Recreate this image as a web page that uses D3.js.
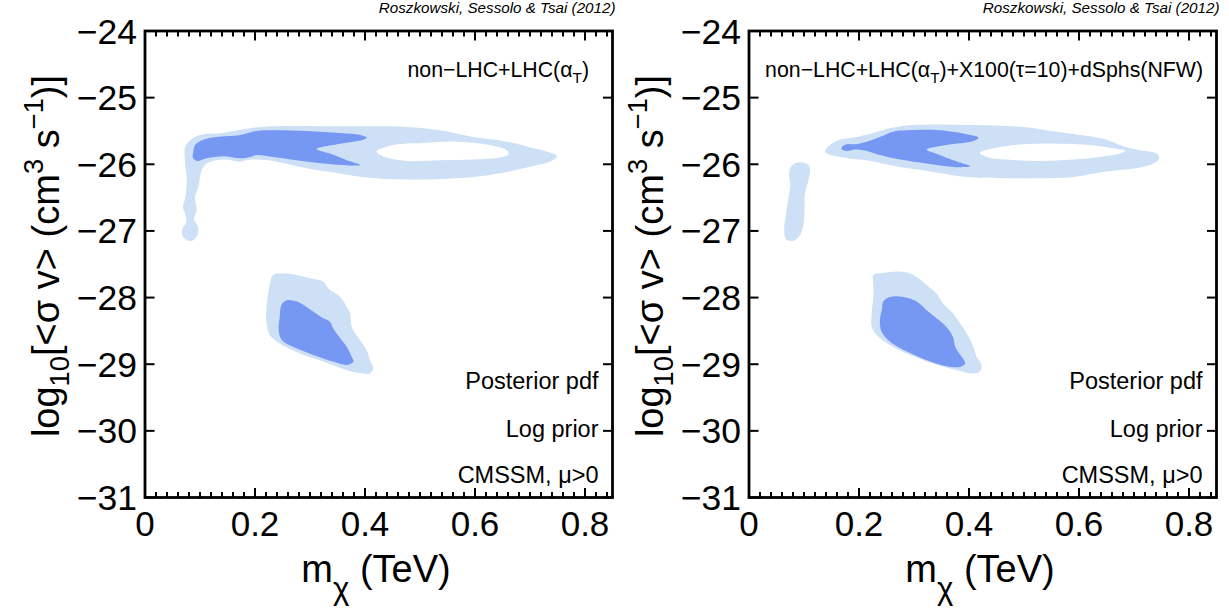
<!DOCTYPE html>
<html><head><meta charset="utf-8">
<script src="https://cdn.jsdelivr.net/npm/d3@7/dist/d3.min.js"></script>
<style>
body{margin:0;background:#fff}
svg{display:block}
text{font-family:"Liberation Sans",Arial,Helvetica,sans-serif;fill:#000}
</style>
</head><body>
<svg id="chart" width="1229" height="613"></svg>
<script>
// ---------- axis setup ----------
const xDomain = [0, 0.85];
const yDomain = [-31, -24];
const xTickValues = [0, 0.2, 0.4, 0.6, 0.8];
const xTickLabels = ["0", "0.2", "0.4", "0.6", "0.8"];
const yTickValues = [-24, -25, -26, -27, -28, -29, -30, -31];
const yTickLabels = ["\u221224", "\u221225", "\u221226", "\u221227", "\u221228", "\u221229", "\u221230", "\u221231"];
const credit = "Roszkowski, Sessolo & Tsai (2012)";
const cornerLabels = ["Posterior pdf", "Log prior", "CMSSM, \u03bc>0"];
const leftTitle = [["non\u2212LHC+LHC(\u03b1", "n"], ["T", "sub"], [")", "n"]];
const rightTitle = [["non\u2212LHC+LHC(\u03b1", "n"], ["T", "sub"], [")+X100(\u03c4=10)+dSphs(NFW)", "n"]];

// ---------- contours: [m_chi (TeV), log10 <sigma v>] ----------
// Left panel (non-LHC+LHC(alpha_T))
const leftTop95 = [[0.082,-25.64],[0.100,-25.56],[0.142,-25.53],[0.191,-25.46],[0.233,-25.43],[0.355,-25.43],[0.476,-25.44],[0.536,-25.49],[0.597,-25.59],[0.658,-25.66],[0.706,-25.76],[0.730,-25.81],[0.749,-25.88],[0.736,-25.96],[0.688,-26.06],[0.627,-26.16],[0.567,-26.21],[0.476,-26.23],[0.403,-26.20],[0.355,-26.14],[0.294,-26.06],[0.233,-25.95],[0.191,-25.93],[0.173,-25.96],[0.142,-25.93],[0.112,-25.99],[0.103,-26.09],[0.097,-26.34],[0.091,-26.49],[0.094,-26.69],[0.089,-26.82],[0.096,-26.93],[0.096,-27.05],[0.085,-27.15],[0.071,-27.11],[0.067,-26.99],[0.075,-26.87],[0.073,-26.75],[0.069,-26.63],[0.073,-26.51],[0.076,-26.24],[0.073,-25.99],[0.073,-25.74]];
const leftTopHole = [[0.421,-25.81],[0.451,-25.71],[0.506,-25.68],[0.567,-25.66],[0.627,-25.71],[0.658,-25.79],[0.661,-25.85],[0.645,-25.90],[0.597,-25.93],[0.536,-25.94],[0.476,-25.95],[0.439,-25.90]];
const leftTop68 = [[0.088,-25.81],[0.091,-25.71],[0.106,-25.63],[0.130,-25.59],[0.173,-25.56],[0.203,-25.50],[0.233,-25.49],[0.294,-25.50],[0.355,-25.53],[0.391,-25.56],[0.403,-25.60],[0.397,-25.63],[0.355,-25.69],[0.312,-25.77],[0.336,-25.84],[0.367,-25.94],[0.391,-26.01],[0.379,-26.02],[0.324,-25.99],[0.276,-25.94],[0.233,-25.89],[0.203,-25.86],[0.191,-25.89],[0.173,-25.91],[0.142,-25.88],[0.112,-25.91],[0.094,-25.95],[0.087,-25.90]];
const leftLow95 = [[0.233,-27.66],[0.252,-27.64],[0.276,-27.66],[0.300,-27.71],[0.324,-27.76],[0.333,-27.86],[0.355,-27.99],[0.367,-28.14],[0.373,-28.24],[0.376,-28.44],[0.391,-28.64],[0.403,-28.79],[0.409,-28.94],[0.415,-29.06],[0.409,-29.14],[0.397,-29.14],[0.367,-29.09],[0.324,-28.96],[0.282,-28.84],[0.245,-28.69],[0.227,-28.56],[0.221,-28.39],[0.221,-28.14],[0.224,-27.94],[0.227,-27.79]];
const leftLow68 = [[0.258,-28.04],[0.276,-28.06],[0.294,-28.14],[0.306,-28.21],[0.324,-28.31],[0.336,-28.36],[0.342,-28.46],[0.355,-28.61],[0.367,-28.74],[0.376,-28.89],[0.379,-28.96],[0.367,-29.01],[0.342,-28.96],[0.306,-28.86],[0.270,-28.74],[0.249,-28.64],[0.243,-28.49],[0.245,-28.29],[0.248,-28.11]];

// Right panel (+X100(tau=10)+dSphs(NFW))
const rightTop95 = [[0.138,-25.81],[0.147,-25.71],[0.165,-25.63],[0.196,-25.59],[0.226,-25.53],[0.256,-25.46],[0.299,-25.41],[0.408,-25.41],[0.499,-25.44],[0.559,-25.51],[0.620,-25.58],[0.650,-25.63],[0.681,-25.73],[0.711,-25.79],[0.741,-25.84],[0.746,-25.91],[0.735,-25.99],[0.711,-26.05],[0.650,-26.11],[0.590,-26.19],[0.529,-26.21],[0.469,-26.21],[0.408,-26.20],[0.359,-26.15],[0.317,-26.09],[0.275,-26.04],[0.238,-25.98],[0.214,-25.94],[0.190,-25.92],[0.165,-25.89],[0.144,-25.85]];
const rightTopHole = [[0.420,-25.83],[0.444,-25.76],[0.499,-25.70],[0.559,-25.69],[0.620,-25.71],[0.662,-25.76],[0.684,-25.80],[0.675,-25.84],[0.638,-25.89],[0.590,-25.93],[0.529,-25.95],[0.469,-25.93],[0.432,-25.89]];
const rightTop68 = [[0.169,-25.74],[0.178,-25.70],[0.193,-25.70],[0.214,-25.66],[0.238,-25.59],[0.262,-25.51],[0.287,-25.49],[0.347,-25.49],[0.396,-25.55],[0.417,-25.60],[0.408,-25.65],[0.359,-25.71],[0.323,-25.78],[0.347,-25.86],[0.378,-25.96],[0.402,-26.03],[0.371,-26.04],[0.323,-25.99],[0.275,-25.93],[0.238,-25.86],[0.208,-25.79],[0.193,-25.78],[0.178,-25.80],[0.169,-25.78]];
const rightStem95 = [[0.075,-26.06],[0.081,-26.00],[0.093,-25.97],[0.108,-26.01],[0.111,-26.09],[0.108,-26.24],[0.102,-26.44],[0.100,-26.84],[0.093,-27.06],[0.080,-27.15],[0.067,-27.12],[0.064,-26.99],[0.067,-26.76],[0.071,-26.54],[0.075,-26.31],[0.073,-26.16]];
const rightLow95 = [[0.226,-27.66],[0.244,-27.63],[0.275,-27.61],[0.299,-27.66],[0.323,-27.81],[0.341,-27.94],[0.353,-28.09],[0.371,-28.24],[0.384,-28.39],[0.396,-28.54],[0.408,-28.74],[0.414,-28.89],[0.423,-29.01],[0.420,-29.11],[0.408,-29.14],[0.378,-29.09],[0.335,-28.99],[0.293,-28.86],[0.256,-28.71],[0.232,-28.56],[0.223,-28.44],[0.223,-28.24],[0.226,-27.99],[0.226,-27.79]];
const rightLow68 = [[0.244,-28.06],[0.256,-27.99],[0.281,-27.99],[0.305,-28.06],[0.323,-28.19],[0.341,-28.31],[0.359,-28.44],[0.371,-28.59],[0.375,-28.74],[0.387,-28.89],[0.393,-28.99],[0.384,-29.04],[0.359,-29.03],[0.323,-28.94],[0.287,-28.81],[0.256,-28.66],[0.241,-28.51],[0.238,-28.34],[0.242,-28.16]];

// ---------- style ----------
const col95 = "#cde0f6";
const col68 = "#7698f2";
const plotTop = 31, plotBottom = 497.5, plotWidth = 467.5;

const panels = [
  { x0: 145, title: leftTitle, titleRight: 589,
    regions95: [[leftTop95, leftTopHole], [leftLow95]],
    regions68: [leftTop68, leftLow68] },
  { x0: 749, title: rightTitle, titleRight: 1203,
    regions95: [[rightTop95, rightTopHole], [rightStem95], [rightLow95]],
    regions68: [rightTop68, rightLow68] }
];

const svg = d3.select("#chart");

function rich(sel, parts, baseSize, shift, subScale) {
  let offset = 0;
  parts.forEach(([t, kind]) => {
    const ts = sel.append("tspan").text(t);
    let target = 0;
    if (kind === "sub") { target = shift; ts.attr("font-size", baseSize * (subScale || 0.72)); }
    else if (kind === "sup") { target = -shift * 1.6; ts.attr("font-size", baseSize * 0.72); }
    ts.attr("dy", target - offset);
    offset = target;
  });
}

panels.forEach((p, i) => {
  const x = d3.scaleLinear().domain(xDomain).range([p.x0, p.x0 + plotWidth]);
  const y = d3.scaleLinear().domain(yDomain).range([plotBottom, plotTop]);
  const g = svg.append("g");
  const clipId = "clip" + i;
  g.append("clipPath").attr("id", clipId).append("rect")
    .attr("x", x(xDomain[0])).attr("y", y(yDomain[1]))
    .attr("width", x(xDomain[1]) - x(xDomain[0])).attr("height", y(yDomain[0]) - y(yDomain[1]));
  const area = g.append("g").attr("clip-path", `url(#${clipId})`);
  const line = d3.line().x(d => x(d[0])).y(d => y(d[1])).curve(d3.curveCatmullRomClosed.alpha(0.5));

  p.regions95.forEach(rings => {
    area.append("path").attr("d", rings.map(r => line(r)).join(" "))
      .attr("fill", col95).attr("fill-rule", "evenodd");
  });
  p.regions68.forEach(r => {
    area.append("path").attr("d", line(r)).attr("fill", col68);
  });

  // minor x ticks (top and bottom)
  const minor = d3.range(0, 0.8501, 0.02);
  const tickG = g.append("g").attr("stroke", "#000").attr("stroke-width", 2);
  minor.forEach(v => {
    tickG.append("line").attr("x1", x(v)).attr("x2", x(v)).attr("y1", plotBottom).attr("y2", plotBottom - 5.5);
    tickG.append("line").attr("x1", x(v)).attr("x2", x(v)).attr("y1", plotTop).attr("y2", plotTop + 5.5);
  });
  xTickValues.forEach(v => {
    tickG.append("line").attr("x1", x(v)).attr("x2", x(v)).attr("y1", plotBottom).attr("y2", plotBottom - 9.5);
    tickG.append("line").attr("x1", x(v)).attr("x2", x(v)).attr("y1", plotTop).attr("y2", plotTop + 9.5);
  });
  yTickValues.forEach(v => {
    tickG.append("line").attr("y1", y(v)).attr("y2", y(v)).attr("x1", x(0)).attr("x2", x(0) + 9.5);
    tickG.append("line").attr("y1", y(v)).attr("y2", y(v)).attr("x1", x(0.85)).attr("x2", x(0.85) - 9.5);
  });
  // frame
  g.append("rect").attr("x", x(0)).attr("y", plotTop).attr("width", plotWidth).attr("height", plotBottom - plotTop)
    .attr("fill", "none").attr("stroke", "#000").attr("stroke-width", 2.8);

  // tick labels
  xTickValues.forEach((v, k) => {
    g.append("text").attr("x", x(v)).attr("y", 536).attr("text-anchor", "middle")
      .attr("font-size", 35).text(xTickLabels[k]);
  });
  yTickValues.forEach((v, k) => {
    g.append("text").attr("x", x(0) - 8).attr("y", y(v) + 12.5).attr("text-anchor", "end")
      .attr("font-size", 35.5).text(yTickLabels[k]);
  });

  // axis titles
  const xt = g.append("text").attr("x", x(0.42)).attr("y", 582).attr("text-anchor", "middle").attr("font-size", 38);
  rich(xt, [["m", "n"], ["\u03c7", "sub"], [" (TeV)", "n"]], 38, 17, 0.82);
  const yt = g.append("text").attr("transform", `translate(${x(0) - 86},256) rotate(-90)`)
    .attr("text-anchor", "middle").attr("font-size", 38);
  rich(yt, [["log", "n"], ["10", "sub"], ["[<\u03c3 v> (cm", "n"], ["3", "sup"], [" s", "n"], ["\u22121", "sup"], [")]", "n"]], 38, 10);

  // title and labels
  const tt = g.append("text").attr("x", p.titleRight).attr("y", 77).attr("text-anchor", "end").attr("font-size", 21.3);
  rich(tt, p.title, 21.3, 6);
  const right = x(0.85) - 14;
  [[cornerLabels[0], 389], [cornerLabels[1], 437], [cornerLabels[2], 483]].forEach(([t, yy]) => {
    g.append("text").attr("x", right).attr("y", yy).attr("text-anchor", "end").attr("font-size", 23.5).text(t);
  });
  g.append("text").attr("x", x(0.85) + 3).attr("y", 13).attr("text-anchor", "end")
    .attr("font-size", 15.2).attr("font-style", "italic").text(credit);
});
</script>
</body></html>
